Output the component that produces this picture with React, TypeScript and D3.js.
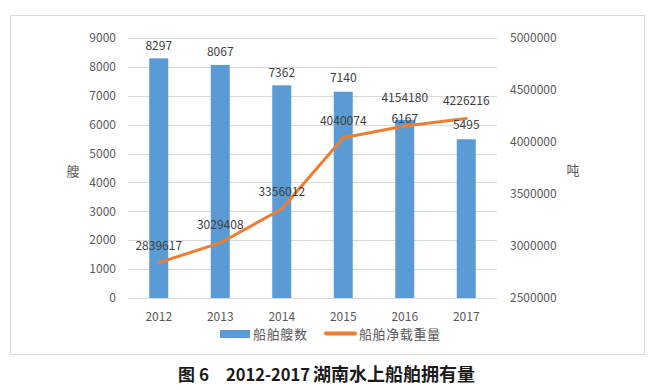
import React from "react";
import * as d3 from "d3";

const years = ["2012", "2013", "2014", "2015", "2016", "2017"];
const shipCounts = [8297, 8067, 7362, 7140, 6167, 5495];
const tonnage = [2839617, 3029408, 3356012, 4040074, 4154180, 4226216];
const leftTicks = [0, 1000, 2000, 3000, 4000, 5000, 6000, 7000, 8000, 9000];
const rightTicks = [2500000, 3000000, 3500000, 4000000, 4500000, 5000000];
// vertical offsets of the data labels (layout, not data)
const barLabelOffset = [-13, -13, -13, -14, -1, -14];
const lineLabelOffset = [-17, -18, -17, -17, -28, -18];

const W = 656;
const H = 390;
const FONT = '"Noto Sans CJK SC", "Noto Sans", sans-serif';

export default function App() {
  const x = d3.scaleBand<string>().domain(years).range([128, 497]).paddingInner(0).paddingOuter(0);
  const yL = d3.scaleLinear().domain([0, 9000]).range([298, 38]);
  const yR = d3.scaleLinear().domain([2500000, 5000000]).range([298, 38]);
  const barW = 19;
  const cx = (d: string) => (x(d) as number) + x.bandwidth() / 2;
  const line = d3
    .line<number>()
    .x((_, i) => cx(years[i]))
    .y((v) => yR(v));

  return (
    <svg
      width={W}
      height={H}
      style={{ position: "absolute", left: 0, top: 0, fontFamily: FONT }}
    >
      <rect x={0} y={0} width={W} height={H} fill="#fff" />
      <rect x={10.5} y={15.5} width={634} height={339} fill="#fff" stroke="#D9D9D9" strokeWidth={1} />
      {leftTicks.map((t) => (
        <g key={t}>
          <line x1={128} x2={497} y1={Math.round(yL(t)) + 0.5} y2={Math.round(yL(t)) + 0.5} stroke="#D9D9D9" />
          <text x={116} y={yL(t)} dy="0.35em" textAnchor="end" fontSize={12} fill="#595959">
            {t}
          </text>
        </g>
      ))}
      {rightTicks.map((t) => (
        <text key={t} x={510} y={yR(t)} dy="0.35em" textAnchor="start" fontSize={12} fill="#595959">
          {t}
        </text>
      ))}
      <text x={73} y={171} dy="0.35em" textAnchor="middle" fontSize={13} fill="#595959">
        艘
      </text>
      <text x={573} y={170} dy="0.35em" textAnchor="middle" fontSize={13} fill="#595959">
        吨
      </text>
      {years.map((yr, i) => (
        <g key={yr}>
          <rect x={cx(yr) - barW / 2} y={yL(shipCounts[i])} width={barW} height={yL(0) - yL(shipCounts[i])} fill="#5B9BD5" />
          <text x={cx(yr)} y={316.5} dy="0.35em" textAnchor="middle" fontSize={12} fill="#595959">
            {yr}
          </text>
        </g>
      ))}
      <path d={line(tonnage) || ""} fill="none" stroke="#ED7D31" strokeWidth={3} strokeLinejoin="round" strokeLinecap="round" />
      {years.map((yr, i) => (
        <text key={"b" + yr} x={cx(yr)} y={yL(shipCounts[i]) + barLabelOffset[i]} dy="0.35em" textAnchor="middle" fontSize={12} fill="#404040">
          {shipCounts[i]}
        </text>
      ))}
      {years.map((yr, i) => (
        <text key={"l" + yr} x={cx(yr)} y={yR(tonnage[i]) + lineLabelOffset[i]} dy="0.35em" textAnchor="middle" fontSize={12} fill="#404040">
          {tonnage[i]}
        </text>
      ))}
      <rect x={220} y={330} width={30} height={8} fill="#5B9BD5" />
      <text x={253} y={334} dy="0.35em" fontSize={13} fill="#595959" textLength={54} lengthAdjust="spacing">
        船舶艘数
      </text>
      <line x1={326} x2={355} y1={333.5} y2={333.5} stroke="#ED7D31" strokeWidth={4} strokeLinecap="round" />
      <text x={359} y={334} dy="0.35em" fontSize={13} fill="#595959" textLength={81} lengthAdjust="spacing">
        船舶净载重量
      </text>
      <text x={178} y={375} dy="0.35em" fontSize={17} fontWeight="bold" fill="#1a1a1a">
        图
      </text>
      <text x={199} y={375} dy="0.35em" fontSize={17} fontWeight="bold" fill="#1a1a1a">
        6
      </text>
      <text x={226} y={375} dy="0.35em" fontSize={17} fontWeight="bold" fill="#1a1a1a" textLength={84} lengthAdjust="spacingAndGlyphs">
        2012-2017
      </text>
      <text x={313} y={375} dy="0.35em" fontSize={18} fontWeight="bold" fill="#1a1a1a" textLength={162} lengthAdjust="spacing">
        湖南水上船舶拥有量
      </text>
    </svg>
  );
}
